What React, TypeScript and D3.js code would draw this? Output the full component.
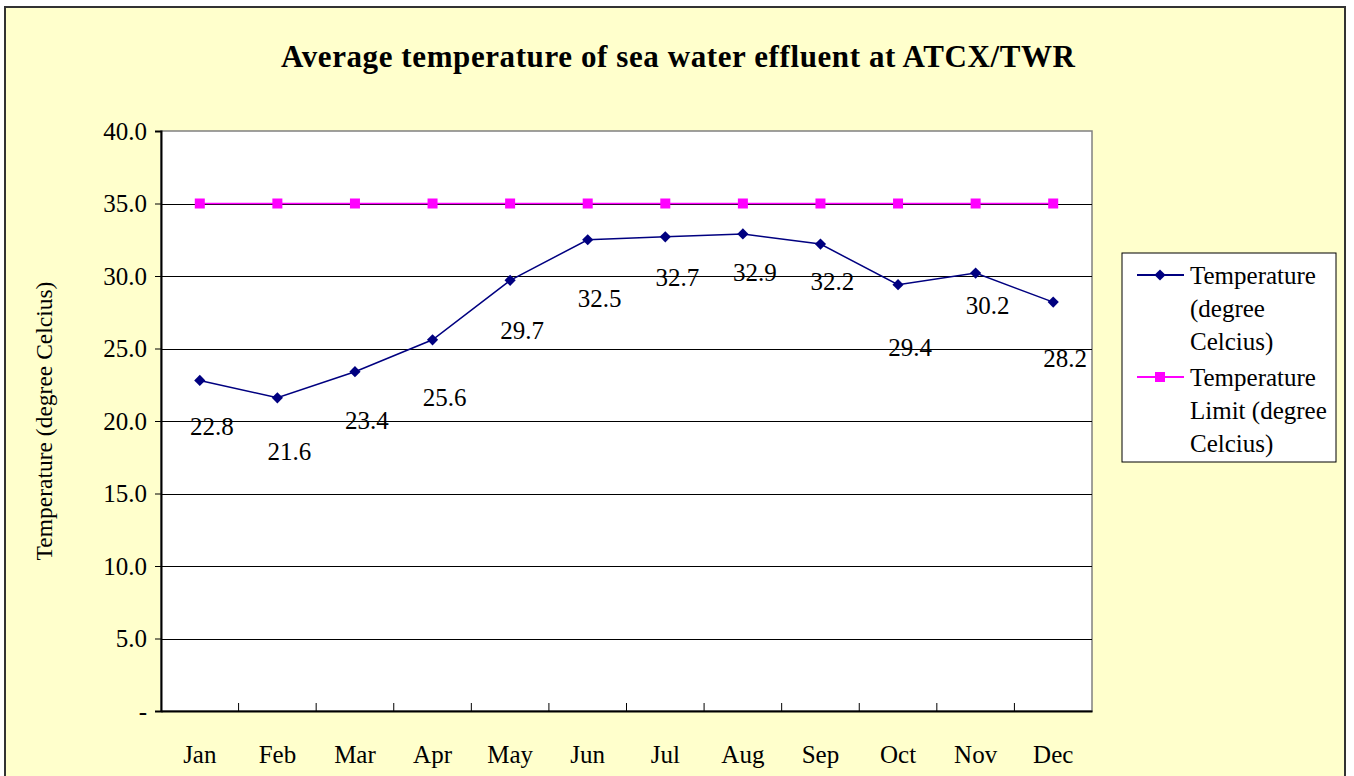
import React, { useEffect, useRef } from 'react';
import * as d3 from 'd3';

const months = ['Jan', 'Feb', 'Mar', 'Apr', 'May', 'Jun', 'Jul', 'Aug', 'Sep', 'Oct', 'Nov', 'Dec'];
const temperature = [22.8, 21.6, 23.4, 25.6, 29.7, 32.5, 32.7, 32.9, 32.2, 29.4, 30.2, 28.2];
const temperatureLimit = [35, 35, 35, 35, 35, 35, 35, 35, 35, 35, 35, 35];
const yTicks = [0, 5, 10, 15, 20, 25, 30, 35, 40];

// label nudges (px below each point), as placed in the original sheet
const labelDy = [47, 54, 49, 58, 51, 59, 41, 39, 38, 63, 33, 57];

const W = 1354;
const H = 776;
const margin = { left: 161, right: 262, top: 131, bottom: 65 };
const FONT = '"Liberation Serif", "Times New Roman", serif';

const App = () => {
  const svgRef = useRef<SVGSVGElement>(null);

  useEffect(() => {
    const svg = d3.select(svgRef.current);
    svg.selectAll('*').remove();

    const x0 = margin.left;
    const x1 = W - margin.right;
    const y0 = margin.top;
    const y1 = H - margin.bottom;

    // outer chart area
    svg.append('rect')
      .attr('x', 5).attr('y', 7)
      .attr('width', 1340).attr('height', 800)
      .attr('fill', '#FFFFCC')
      .attr('stroke', '#333').attr('stroke-width', 2);

    svg.append('text')
      .attr('x', 678).attr('y', 67)
      .attr('text-anchor', 'middle')
      .style('font-family', FONT)
      .style('font-weight', 'bold')
      .style('font-size', '31px')
      .attr('textLength', 794)
      .attr('lengthAdjust', 'spacing')
      .text('Average temperature of sea water effluent at ATCX/TWR');

    const xScale = d3.scaleBand().domain(months).range([x0, x1]);
    const yScale = d3.scaleLinear().domain([0, 40]).range([y1, y0]);

    // plot area
    svg.append('rect')
      .attr('x', x0).attr('y', y0)
      .attr('width', x1 - x0).attr('height', y1 - y0)
      .attr('fill', 'white')
      .attr('stroke', '#808080').attr('stroke-width', 1.5);

    // gridlines
    svg.append('g')
      .selectAll('line')
      .data(yTicks.filter(t => t > 0 && t < 40))
      .join('line')
      .attr('x1', x0).attr('x2', x1)
      .attr('y1', d => Math.round(yScale(d)) + 0.5)
      .attr('y2', d => Math.round(yScale(d)) + 0.5)
      .attr('stroke', '#000').attr('stroke-width', 1);

    // y axis
    const yAxis = svg.append('g')
      .attr('transform', `translate(${x0},0)`)
      .call(d3.axisLeft(yScale).tickValues(yTicks).tickSize(6).tickPadding(8)
        .tickFormat(d => (+d === 0 ? '-' : d3.format('.1f')(+d))));
    yAxis.attr('font-family', null);
    yAxis.select('.domain').attr('stroke', '#000').attr('stroke-width', 2);
    yAxis.selectAll('.tick line').attr('stroke', '#000');
    yAxis.selectAll('text')
      .style('font-family', FONT)
      .style('font-size', '25px')
      .attr('fill', '#000');

    // x axis
    const xAxis = svg.append('g')
      .attr('transform', `translate(0,${y1})`)
      .call(d3.axisBottom(xScale).tickSize(0).tickPadding(34));
    xAxis.attr('font-family', null);
    xAxis.select('.domain').attr('stroke', '#000').attr('stroke-width', 2);
    xAxis.selectAll('text')
      .style('font-family', FONT)
      .style('font-size', '25px')
      .attr('fill', '#000');
    xAxis.selectAll('.boundary')
      .data(months.slice(1))
      .join('line')
      .attr('class', 'boundary')
      .attr('x1', d => xScale(d)!).attr('x2', d => xScale(d)!)
      .attr('y1', 0).attr('y2', -8)
      .attr('stroke', '#000').attr('stroke-width', 1);

    // y axis title
    svg.append('text')
      .attr('transform', `translate(52,${(y0 + y1) / 2}) rotate(-90)`)
      .attr('text-anchor', 'middle')
      .style('font-family', FONT)
      .style('font-size', '23.5px')
      .text('Temperature (degree Celcius)');

    const cx = (i: number) => xScale(months[i])! + xScale.bandwidth() / 2;
    const line = d3.line<number>().x((_, i) => cx(i)).y(d => yScale(d));

    // limit series
    svg.append('path')
      .datum(temperatureLimit)
      .attr('d', line)
      .attr('fill', 'none')
      .attr('stroke', '#FF00FF').attr('stroke-width', 1.5);
    svg.append('g')
      .selectAll('rect')
      .data(temperatureLimit)
      .join('rect')
      .attr('x', (_, i) => cx(i) - 5).attr('y', d => yScale(d) - 5)
      .attr('width', 10).attr('height', 10)
      .attr('fill', '#FF00FF');

    // temperature series
    svg.append('path')
      .datum(temperature)
      .attr('d', line)
      .attr('fill', 'none')
      .attr('stroke', '#000080').attr('stroke-width', 1.5);
    const diamond = d3.symbol().type(d3.symbolDiamond2).size(80);
    svg.append('g')
      .selectAll('path')
      .data(temperature)
      .join('path')
      .attr('d', diamond)
      .attr('transform', (d, i) => `translate(${cx(i)},${yScale(d)})`)
      .attr('fill', '#000080');

    svg.append('g')
      .selectAll('text')
      .data(temperature)
      .join('text')
      .attr('x', (_, i) => cx(i) + 12)
      .attr('y', (d, i) => yScale(d) + labelDy[i] + 8)
      .attr('text-anchor', 'middle')
      .style('font-family', FONT)
      .style('font-size', '25px')
      .text(d => d.toFixed(1));

    // legend
    const legend = svg.append('g').attr('transform', 'translate(1122,253)');
    legend.append('rect')
      .attr('width', 214).attr('height', 209)
      .attr('fill', 'white')
      .attr('stroke', '#000').attr('stroke-width', 1);

    const entries = [
      { color: '#000080', shape: 'diamond', lines: ['Temperature', '(degree', 'Celcius)'] },
      { color: '#FF00FF', shape: 'square', lines: ['Temperature', 'Limit (degree', 'Celcius)'] },
    ];
    entries.forEach((e, k) => {
      const row = legend.append('g').attr('transform', `translate(0,${22 + k * 102})`);
      row.append('line')
        .attr('x1', 15).attr('x2', 62)
        .attr('stroke', e.color).attr('stroke-width', 2);
      if (e.shape === 'diamond') {
        row.append('path')
          .attr('d', diamond)
          .attr('transform', 'translate(38,0)')
          .attr('fill', e.color);
      } else {
        row.append('rect')
          .attr('x', 33).attr('y', -5)
          .attr('width', 10).attr('height', 10)
          .attr('fill', e.color);
      }
      e.lines.forEach((t, j) => {
        row.append('text')
          .attr('x', 68).attr('y', j * 33 + 9)
          .style('font-family', FONT)
          .style('font-size', '25px')
          .text(t);
      });
    });
  }, []);

  return (
    <svg
      ref={svgRef}
      width={W}
      height={H}
      style={{ position: 'absolute', left: 0, top: 0, background: 'white' }}
    />
  );
};

export default App;
